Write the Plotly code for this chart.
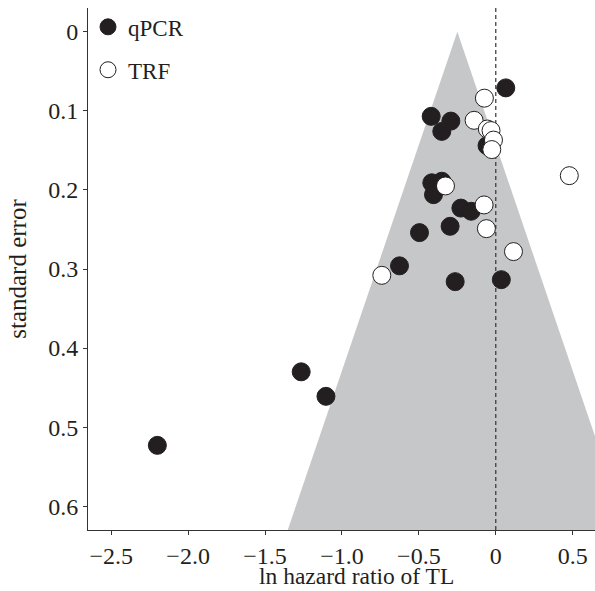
import plotly.graph_objects as go

# qPCR studies: ln hazard ratio and standard error
qpcr_lnhr = [0.065, -0.420, -0.292, -0.351, -0.057, -0.416, -0.351, -0.405, -0.227, -0.160,
             -0.496, -0.297, -0.626, -0.264, 0.036, -1.265, -1.104, -2.200]
qpcr_se = [0.071, 0.107, 0.113, 0.126, 0.144, 0.191, 0.189, 0.206, 0.223, 0.227,
           0.254, 0.246, 0.296, 0.316, 0.3135, 0.430, 0.461, 0.523]

# TRF studies
trf_lnhr = [-0.074, -0.141, -0.055, -0.031, -0.015, -0.026, 0.478, -0.327, -0.076, -0.061, 0.115, -0.741]
trf_se = [0.084, 0.112, 0.123, 0.125, 0.137, 0.149, 0.182, 0.195, 0.219, 0.249, 0.278, 0.308]

# funnel: pooled estimate and its spread per unit standard error
pooled = -0.25
spread = 1.75
funnel_se = [0.7, 0.0, 0.7]
funnel_x = [pooled - spread * funnel_se[0], pooled, pooled + spread * funnel_se[2]]

x_ticks = [-2.5, -2.0, -1.5, -1.0, -0.5, 0, 0.5]
x_ticktext = ["\u22122.5", "\u22122.0", "\u22121.5", "\u22121.0", "\u22120.5", "0", "0.5"]
y_ticks = [0, 0.1, 0.2, 0.3, 0.4, 0.5, 0.6]
y_ticktext = ["0", "0.1", "0.2", "0.3", "0.4", "0.5", "0.6"]
x_title = "ln hazard ratio of TL"
y_title = "standard error"

FONT = "Liberation Serif"
INK = "#231f20"

fig = go.Figure()
fig.add_trace(go.Scatter(x=funnel_x, y=funnel_se, mode="lines", fill="toself",
                         fillcolor="#c6c7c9", line=dict(width=0), hoverinfo="skip",
                         showlegend=False))
fig.add_trace(go.Scatter(x=[0, 0], y=[-0.03, 0.63], mode="lines",
                         line=dict(color="#333333", width=1.2, dash="4px,3px"),
                         showlegend=False, hoverinfo="skip"))
fig.add_trace(go.Scatter(x=qpcr_lnhr, y=qpcr_se, mode="markers", name="qPCR",
                         legendgroup="a",
                         marker=dict(size=18, color=INK, line=dict(color=INK, width=1))))
fig.add_trace(go.Scatter(x=trf_lnhr, y=trf_se, mode="markers", name="TRF",
                         legendgroup="b",
                         marker=dict(size=18, color="white", line=dict(color=INK, width=1))))

fig.add_annotation(text=x_title, xref="paper", yref="paper", x=0.529, y=-0.0885,
                   xanchor="center", yanchor="middle", showarrow=False, borderpad=0,
                   font=dict(family=FONT, size=23.5, color=INK))

fig.update_layout(
    width=595, height=591,
    margin=dict(l=88, r=0, t=8, b=61),
    plot_bgcolor="white", paper_bgcolor="white",
    font=dict(family=FONT, size=23, color=INK),
    showlegend=True,
    legend=dict(x=0.0, y=1.005, xanchor="left", yanchor="top",
                bgcolor="rgba(0,0,0,0)", font=dict(size=23),
                tracegroupgap=10, itemwidth=30),
    xaxis=dict(range=[-2.651, 0.645], tickvals=x_ticks, ticktext=x_ticktext,
               automargin=False, tickfont=dict(size=24),
               showgrid=False, zeroline=False, showline=True, linecolor="#333333",
               linewidth=1, ticks="outside", ticklen=4, tickcolor="#333333"),
    yaxis=dict(range=[0.63, -0.03], tickvals=y_ticks, ticktext=y_ticktext,
               automargin=False, tickfont=dict(size=24),
               showgrid=False, zeroline=False, showline=True, linecolor="#333333",
               linewidth=1, ticks="outside", ticklen=4, tickcolor="#333333",
               title=dict(text=y_title, standoff=14, font=dict(size=25))),
)

fig.write_html("out.html", config={"displayModeBar": False},
               post_script="document.body.style.margin='0';document.body.style.overflow='hidden';")
